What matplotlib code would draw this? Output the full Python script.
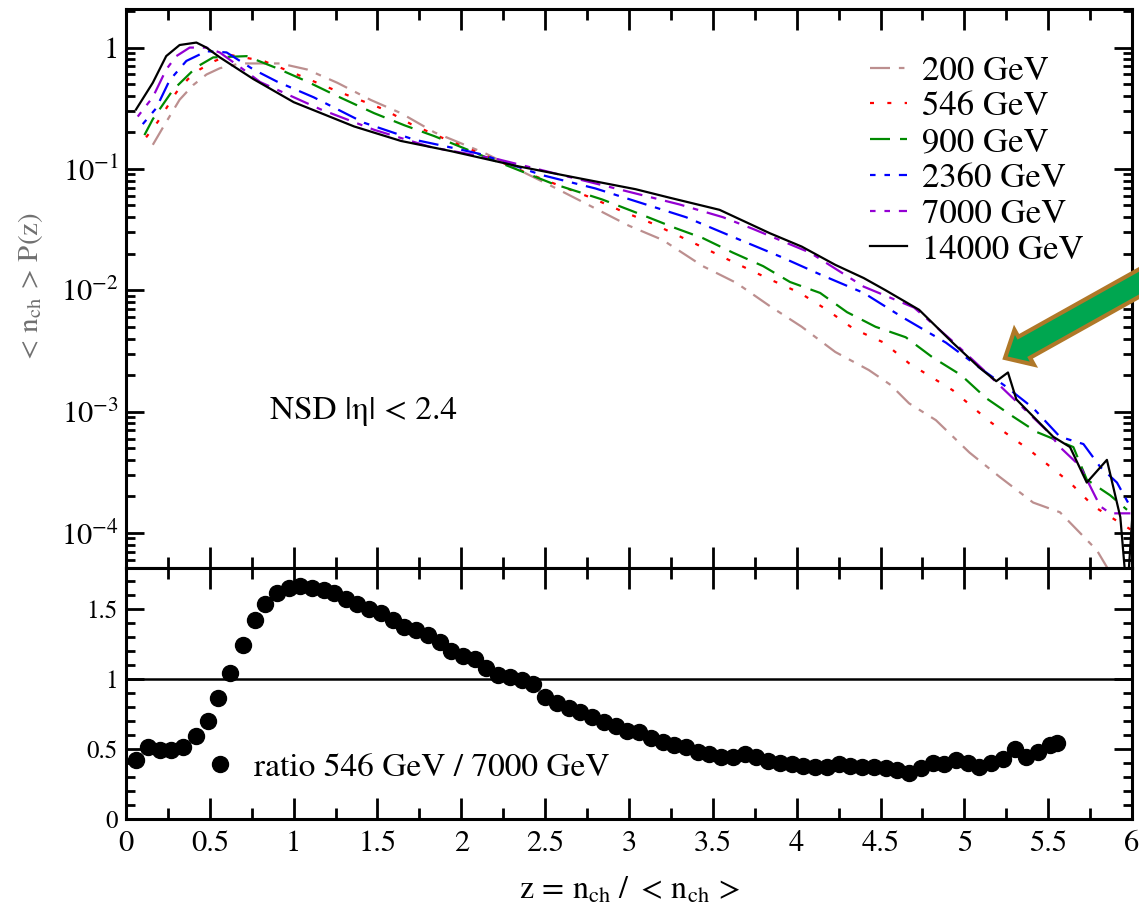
import math
import matplotlib
matplotlib.use("Agg")
import matplotlib.pyplot as plt
from matplotlib.patches import FancyArrow
from matplotlib.transforms import IdentityTransform
from matplotlib.ticker import MultipleLocator, FuncFormatter, LogLocator, NullFormatter

plt.rcParams["font.family"] = "STIXGeneral"
plt.rcParams["mathtext.fontset"] = "stix"

# ---- multiplicity distributions  <n_ch> P(z)  vs  z = n_ch/<n_ch> ----
labels = ["200 GeV", "546 GeV", "900 GeV", "2360 GeV", "7000 GeV", "14000 GeV"]

z_200 = [0.16, 0.22, 0.32, 0.40, 0.48, 0.56, 0.68, 0.92, 1.08, 1.26, 1.46, 1.64, 1.84,
         2.14, 2.54, 2.74, 3.00, 3.20, 3.44, 3.64, 3.84, 4.03, 4.23, 4.43, 4.56, 4.67,
         4.83, 5.03, 5.21, 5.41, 5.57, 5.79, 5.90]
p_200 = [0.158, 0.219, 0.372, 0.49, 0.60, 0.676, 0.74, 0.74, 0.66, 0.513, 0.37, 0.288, 0.20,
         0.135, 0.072, 0.052, 0.034, 0.026, 0.0158, 0.0115, 0.0074, 0.0050, 0.0031, 0.0022,
         0.00166, 0.00117, 0.00085, 0.00046, 0.00029, 0.000178, 0.000148, 0.000072, 0.00004]

z_546 = [0.12, 0.19, 0.30, 0.37, 0.44, 0.53, 0.62, 0.82, 1.00, 1.26, 1.54, 1.70, 1.88,
         2.44, 2.78, 2.96, 3.14, 3.40, 3.58, 3.84, 4.02, 4.18, 4.34, 4.52, 4.67, 4.93,
         5.15, 5.39, 5.63, 5.77, 5.99]
p_546 = [0.182, 0.245, 0.427, 0.55, 0.66, 0.776, 0.87, 0.776, 0.617, 0.437, 0.309, 0.234,
         0.182, 0.087, 0.0575, 0.0447, 0.0355, 0.024, 0.0182, 0.0123, 0.0095, 0.0069,
         0.0048, 0.0037, 0.0025, 0.0015, 0.00083, 0.00048, 0.00026, 0.000166, 0.000107]

z_900 = [0.11, 0.16, 0.28, 0.42, 0.52, 0.72, 0.90, 1.08, 1.26, 1.48, 1.66, 1.84, 2.14,
         2.54, 2.84, 3.08, 3.28, 3.44, 3.62, 3.80, 3.96, 4.14, 4.30, 4.47, 4.65, 4.81,
         4.98, 5.13, 5.29, 5.43, 5.65, 5.73, 5.87, 5.97]
p_900 = [0.19, 0.257, 0.447, 0.69, 0.83, 0.85, 0.676, 0.525, 0.398, 0.288, 0.229, 0.186,
         0.126, 0.076, 0.056, 0.0417, 0.0324, 0.0269, 0.0204, 0.0158, 0.0117, 0.0095,
         0.0066, 0.0050, 0.0041, 0.0028, 0.0020, 0.00129, 0.00091, 0.00068, 0.00051,
         0.000275, 0.000204, 0.000155]

z_2360 = [0.10, 0.18, 0.26, 0.36, 0.48, 0.60, 0.76, 0.90, 1.12, 1.42, 1.72, 1.96, 2.12,
          2.48, 2.80, 3.08, 3.34, 3.62, 3.90, 4.14, 4.40, 4.63, 4.89, 5.13, 5.25, 5.41,
          5.57, 5.71, 5.81, 5.91, 6.00]
p_2360 = [0.234, 0.316, 0.537, 0.776, 0.933, 0.912, 0.66, 0.525, 0.389, 0.24, 0.174, 0.148,
          0.132, 0.089, 0.069, 0.052, 0.040, 0.0275, 0.019, 0.0135, 0.0095, 0.0060, 0.0037,
          0.0021, 0.0016, 0.00107, 0.00062, 0.00054, 0.00035, 0.00026, 0.000155]

z_7000 = [0.07, 0.16, 0.24, 0.30, 0.38, 0.48, 0.56, 0.72, 0.80, 1.16, 1.48, 1.82, 2.22,
          2.92, 3.30, 3.56, 3.74, 4.08, 4.40, 4.70, 4.93, 5.10, 5.30, 5.50, 5.57, 5.69,
          5.81, 5.87, 5.99]
p_7000 = [0.27, 0.39, 0.66, 0.85, 1.0, 1.0, 0.91, 0.63, 0.52, 0.31, 0.21, 0.151, 0.12,
          0.069, 0.051, 0.040, 0.032, 0.0204, 0.0107, 0.0072, 0.0038, 0.0023, 0.00125,
          0.00068, 0.00051, 0.000355, 0.000166, 0.000145, 0.000145]

z_14000 = [0.06, 0.16, 0.24, 0.32, 0.42, 0.48, 0.56, 0.76, 1.00, 1.36, 1.64, 1.94, 2.34,
           2.64, 3.04, 3.24, 3.54, 3.84, 4.03, 4.23, 4.40, 4.53, 4.73, 4.93, 5.09, 5.19,
           5.26, 5.31, 5.53, 5.63, 5.73, 5.85, 5.93, 5.97, 6.00]
p_14000 = [0.309, 0.513, 0.851, 1.05, 1.10, 1.0, 0.83, 0.55, 0.355, 0.224, 0.170, 0.140,
           0.105, 0.087, 0.068, 0.058, 0.046, 0.0295, 0.0229, 0.0162, 0.0126, 0.0100,
           0.0069, 0.0037, 0.0023, 0.00178, 0.0021, 0.00126, 0.00062, 0.00051, 0.00026,
           0.00040, 0.000135, 0.00003, 0.000126]

# ---- ratio 546 GeV / 7000 GeV ----
ratio_z = [0.06, 0.13, 0.20, 0.27, 0.34, 0.42, 0.49, 0.55, 0.62, 0.70, 0.77, 0.83, 0.90,
           0.97, 1.04, 1.11, 1.18, 1.24, 1.31, 1.38, 1.45, 1.52, 1.59, 1.66, 1.73, 1.80,
           1.87, 1.94, 2.01, 2.08, 2.15, 2.22, 2.29, 2.36, 2.43, 2.50, 2.57, 2.64, 2.71,
           2.78, 2.85, 2.92, 2.99, 3.06, 3.13, 3.20, 3.27, 3.34, 3.41, 3.48, 3.55, 3.62,
           3.69, 3.76, 3.83, 3.90, 3.97, 4.04, 4.11, 4.18, 4.25, 4.32, 4.39, 4.46, 4.53,
           4.60, 4.67, 4.74, 4.81, 4.88, 4.95, 5.02, 5.09, 5.16, 5.23, 5.30, 5.37, 5.44,
           5.51, 5.55]
ratio_val = [0.42, 0.51, 0.49, 0.49, 0.51, 0.59, 0.70, 0.86, 1.04, 1.24, 1.42, 1.53, 1.61,
             1.65, 1.66, 1.65, 1.63, 1.61, 1.57, 1.53, 1.50, 1.47, 1.42, 1.37, 1.35, 1.31,
             1.26, 1.20, 1.16, 1.14, 1.08, 1.03, 1.01, 0.99, 0.96, 0.87, 0.83, 0.79, 0.76,
             0.73, 0.69, 0.66, 0.63, 0.62, 0.58, 0.55, 0.53, 0.51, 0.48, 0.46, 0.44, 0.44,
             0.46, 0.44, 0.41, 0.40, 0.39, 0.38, 0.37, 0.37, 0.39, 0.38, 0.37, 0.37, 0.36,
             0.35, 0.33, 0.36, 0.40, 0.39, 0.42, 0.40, 0.37, 0.40, 0.43, 0.50, 0.44, 0.48,
             0.53, 0.54]

curves = [
    (z_200, p_200, "#bc8f8f", (0, (9, 4, 2.5, 4))),
    (z_546, p_546, "#ff0000", (0, (1.8, 6.0))),
    (z_900, p_900, "#008a00", (0, (9, 4.5))),
    (z_2360, p_2360, "#0000ff", (6.5, (9, 4, 2.5, 4))),
    (z_7000, p_7000, "#9400d3", (6.5, (9, 4, 2.5, 4))),
    (z_14000, p_14000, "#000000", "-"),
]

W, H = 1139, 917
fig = plt.figure(figsize=(W / 100, H / 100), dpi=100)
ax = fig.add_axes([0.1106, 0.3806, 0.8833, 0.6096])
axr = fig.add_axes([0.1106, 0.1069, 0.8833, 0.2737], sharex=ax)

for (zz, pp, col, ls), lab in zip(curves, labels):
    ax.plot(zz, pp, color=col, ls=ls, lw=1.6, label=lab)

ax.set_yscale("log")
ax.set_xlim(0, 6)
ax.set_ylim(5.14e-5, 2.08)


def log_label(v, pos):
    e = int(round(math.log10(v)))
    return "1" if e == 0 else r"$\mathregular{10^{%d}}$" % e


ax.yaxis.set_major_locator(LogLocator(base=10, numticks=10))
ax.yaxis.set_minor_locator(LogLocator(base=10, subs=range(2, 10), numticks=20))
ax.yaxis.set_minor_formatter(NullFormatter())
ax.yaxis.set_major_formatter(FuncFormatter(log_label))

ax.text(0.86, 1.0e-3, "NSD |η| < 2.4", fontsize=24, va="center", ha="left")
ax.set_ylabel(r"$<\,\mathrm{n_{ch}}\,>\,\mathrm{P(z)}$", fontsize=21,
              color="#707070", labelpad=12)

leg = ax.legend(loc="upper left", bbox_to_anchor=(0.7396, 0.917), frameon=False,
                fontsize=25, handlelength=1.05, handletextpad=0.45, labelspacing=0.1,
                borderpad=0, borderaxespad=0)

# ratio panel
axr.axhline(1.0, color="black", lw=1.8)
axr.plot(ratio_z, ratio_val, "o", color="black", ms=11.5, mec="black",
         label="ratio 546 GeV / 7000 GeV")
axr.set_ylim(0, 1.79)
axr.yaxis.set_major_locator(MultipleLocator(0.5))
axr.yaxis.set_minor_locator(MultipleLocator(0.1))
axr.yaxis.set_major_formatter(FuncFormatter(lambda v, p: "%g" % v))
axr.legend(loc="center left", bbox_to_anchor=(0.0839, 0.205), frameon=False, fontsize=24,
           handlelength=0.6, handletextpad=0.7, borderpad=0, borderaxespad=0,
           markerscale=1.0, numpoints=1)

axr.xaxis.set_major_locator(MultipleLocator(0.5))
axr.xaxis.set_minor_locator(MultipleLocator(0.25))
axr.xaxis.set_major_formatter(FuncFormatter(lambda v, p: "%g" % v))
axr.set_xlabel(r"$\mathrm{z}\,=\,\mathrm{n_{ch}}\ /\ <\,\mathrm{n_{ch}}\,>$",
               fontsize=23, labelpad=12)

for a in (ax, axr):
    for s in a.spines.values():
        s.set_linewidth(2.2)
    a.tick_params(which="both", direction="in", top=True, right=True, width=2.0)
    a.tick_params(axis="x", which="major", length=15, pad=8, labelsize=22)
    a.tick_params(axis="x", which="minor", length=8)
    a.tick_params(axis="y", which="major", length=13)
    a.tick_params(axis="y", which="minor", length=6.5)
ax.tick_params(axis="x", labelbottom=False)
ax.tick_params(axis="y", which="major", labelsize=22, pad=5)
axr.tick_params(axis="y", which="major", labelsize=18, pad=6)

# highlighting arrow (in pixel coordinates)
tip = (1005, H - 358)
tail = (1200, H - 249)
arrow = FancyArrow(tail[0], tail[1], tip[0] - tail[0], tip[1] - tail[1], width=24,
                   head_width=40, head_length=22, length_includes_head=True,
                   facecolor="#00a650", edgecolor="#b07828", linewidth=3.0,
                   transform=IdentityTransform(), zorder=10)
fig.add_artist(arrow)

fig.savefig("out.png", dpi=100)
